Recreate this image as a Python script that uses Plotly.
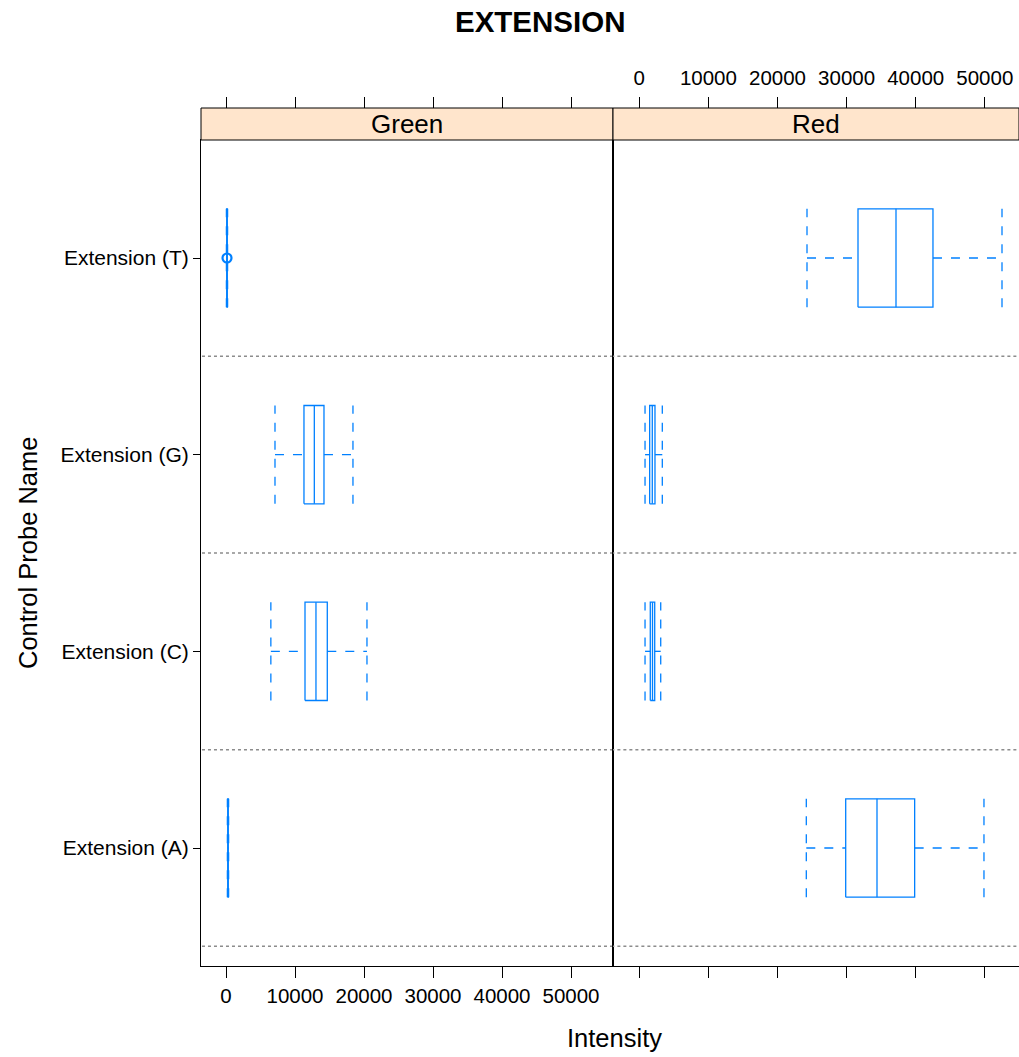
import plotly.graph_objects as go

# the page margin is removed by a post script, so figure pixels == page pixels
PAGE_W, PAGE_H = 1019, 1057
W, H = PAGE_W, PAGE_H

categories = ["Extension (A)", "Extension (C)", "Extension (G)", "Extension (T)"]
cat_pos = [1, 2, 3, 4]
ticks = [0, 10000, 20000, 30000, 40000, 50000]
tick_labels = ["0", "10000", "20000", "30000", "40000", "50000"]

# five-number summaries per category (A, C, G, T)
green_min = [200, 6500, 7100, 60]
green_q1 = [260, 11450, 11300, 110]
green_med = [290, 13040, 12800, 145]
green_q3 = [320, 14680, 14200, 180]
green_max = [380, 20430, 18400, 230]
green_points_x = [145]
green_points_cat = [4]

red_min = [24170, 830, 830, 24270]
red_q1 = [29870, 1590, 1500, 31650]
red_med = [34400, 1910, 1880, 37150]
red_q3 = [39850, 2230, 2270, 42500]
red_max = [49880, 3100, 3330, 52490]

BLUE = "#0080ff"
HALF = 0.25
FONT = "Liberation Sans, Arial, sans-serif"


def px_x(p):
    return p / W


def px_y(p):
    return (H - p) / H


PL, PM, PR = 201, 613, 1019
PT, PB = 140, 966
ST = 108

fig = go.Figure()


def add_boxes(mn, q1, md, q3, mx, xa, ya):
    bx, by, mdx, mdy, wx, wy, cx, cy = [], [], [], [], [], [], [], []
    for i, c in enumerate(cat_pos):
        bx += [q1[i], q3[i], q3[i], q1[i], q1[i], None]
        by += [c - HALF, c - HALF, c + HALF, c + HALF, c - HALF, None]
        mdx += [md[i], md[i], None]
        mdy += [c - HALF, c + HALF, None]
        wx += [mn[i], q1[i], None, q3[i], mx[i], None]
        wy += [c, c, None, c, c, None]
        cx += [mn[i], mn[i], None, mx[i], mx[i], None]
        cy += [c - HALF, c + HALF, None, c - HALF, c + HALF, None]
    common = dict(mode="lines", xaxis=xa, yaxis=ya, showlegend=False, hoverinfo="skip")
    fig.add_trace(go.Scatter(x=wx, y=wy, line=dict(color=BLUE, width=1.3, dash="dash"), **common))
    fig.add_trace(go.Scatter(x=cx, y=cy, line=dict(color=BLUE, width=1.3, dash="dash"), **common))
    fig.add_trace(go.Scatter(x=bx, y=by, line=dict(color=BLUE, width=1.3), **common))
    fig.add_trace(go.Scatter(x=mdx, y=mdy, line=dict(color=BLUE, width=1.3), **common))


# dotted reference lines between categories
ref_y = [c - 0.5 for c in cat_pos]
for xa, ya in (("x", "y"), ("x2", "y2")):
    rx, ry = [], []
    for r in ref_y:
        rx += [-1e6, 1e6, None]
        ry += [r, r, None]
    fig.add_trace(go.Scatter(x=rx, y=ry, mode="lines", xaxis=xa, yaxis=ya,
                             line=dict(color="#8c8c8c", width=1.5, dash="dot"),
                             showlegend=False, hoverinfo="skip"))

add_boxes(green_min, green_q1, green_med, green_q3, green_max, "x", "y")
add_boxes(red_min, red_q1, red_med, red_q3, red_max, "x2", "y2")

fig.add_trace(go.Scatter(x=green_points_x, y=green_points_cat, mode="markers", xaxis="x", yaxis="y",
                         marker=dict(symbol="circle-open", size=9, color=BLUE, line=dict(width=2.2)),
                         showlegend=False, hoverinfo="skip"))

# dummy traces to register the top tick axes
fig.add_trace(go.Scatter(x=[None], y=[None], xaxis="x3", yaxis="y", showlegend=False, hoverinfo="skip"))
fig.add_trace(go.Scatter(x=[None], y=[None], xaxis="x4", yaxis="y2", showlegend=False, hoverinfo="skip"))

green_range = [-3623, 56087]
red_range = [-3806, 54950]
tickfont = dict(family=FONT, size=20.5, color="black")
dom_g = [px_x(PL), px_x(PM)]
dom_r = [px_x(PM), 1.0]
dom_y = [px_y(PB), px_y(PT)]

xcommon = dict(showgrid=False, zeroline=False, ticks="outside", ticklen=11, tickwidth=1,
               tickcolor="black", tickvals=ticks, ticktext=tick_labels, tickfont=tickfont,
               fixedrange=True)

fig.update_layout(
    width=W, height=H,
    margin=dict(l=0, r=0, t=0, b=0),
    paper_bgcolor="white", plot_bgcolor="white",
    xaxis=dict(domain=dom_g, range=green_range, anchor="y", showline=True, linecolor="black",
               linewidth=1, mirror=True, **xcommon),
    xaxis2=dict(domain=dom_r, range=red_range, anchor="y2", showline=True, linecolor="black",
                linewidth=1, mirror=True, showticklabels=False, **xcommon),
    xaxis3=dict(range=green_range, overlaying="x", anchor="free", position=px_y(ST), side="top",
                showline=False, showticklabels=False, **xcommon),
    xaxis4=dict(range=red_range, overlaying="x2", anchor="free", position=px_y(ST), side="top",
                showline=False, showticklabels=True, ticklabelstandoff=4, **xcommon),
    yaxis=dict(domain=dom_y, range=[0.4, 4.6], anchor="x", tickvals=cat_pos, ticktext=categories,
               showgrid=False, zeroline=False, showline=True, linecolor="black", linewidth=1,
               mirror=True, ticks="outside", ticklen=7, tickcolor="black",
               tickfont=dict(family=FONT, size=21, color="black"), fixedrange=True),
    yaxis2=dict(domain=dom_y, range=[0.4, 4.6], anchor="x2", showgrid=False, zeroline=False,
                showline=True, linecolor="black", linewidth=1, mirror=False, showticklabels=False,
                ticks="", fixedrange=True),
)

# strips
for x0, x1, label in ((PL, PM, "Green"), (PM, PR, "Red")):
    fig.add_shape(type="rect", xref="paper", yref="paper", x0=px_x(x0), x1=px_x(x1),
                  y0=px_y(PT), y1=px_y(ST), fillcolor="#FFE5CC", line=dict(color="black", width=1),
                  layer="above")
    fig.add_annotation(text=label, xref="paper", yref="paper", x=px_x((x0 + x1) / 2),
                       y=px_y((PT + ST) / 2), showarrow=False, xanchor="center", yanchor="middle",
                       font=dict(family=FONT, size=26, color="black"))

fig.add_annotation(text="<b>EXTENSION</b>", xref="paper", yref="paper", x=px_x(540), y=px_y(22),
                   showarrow=False, xanchor="center", yanchor="middle",
                   font=dict(family=FONT, size=29.5, color="black"))
fig.add_annotation(text="Intensity", xref="paper", yref="paper", x=px_x(614), y=px_y(1038),
                   showarrow=False, xanchor="center", yanchor="middle",
                   font=dict(family=FONT, size=25.5, color="black"))
fig.add_annotation(text="Control Probe Name", xref="paper", yref="paper", x=px_x(28), y=px_y(553),
                   showarrow=False, xanchor="center", yanchor="middle", textangle=-90,
                   font=dict(family=FONT, size=25.5, color="black"))

fig.write_html("out.html", config={"displayModeBar": False},
               post_script="document.body.style.margin='0px';document.body.style.overflow='hidden';")
